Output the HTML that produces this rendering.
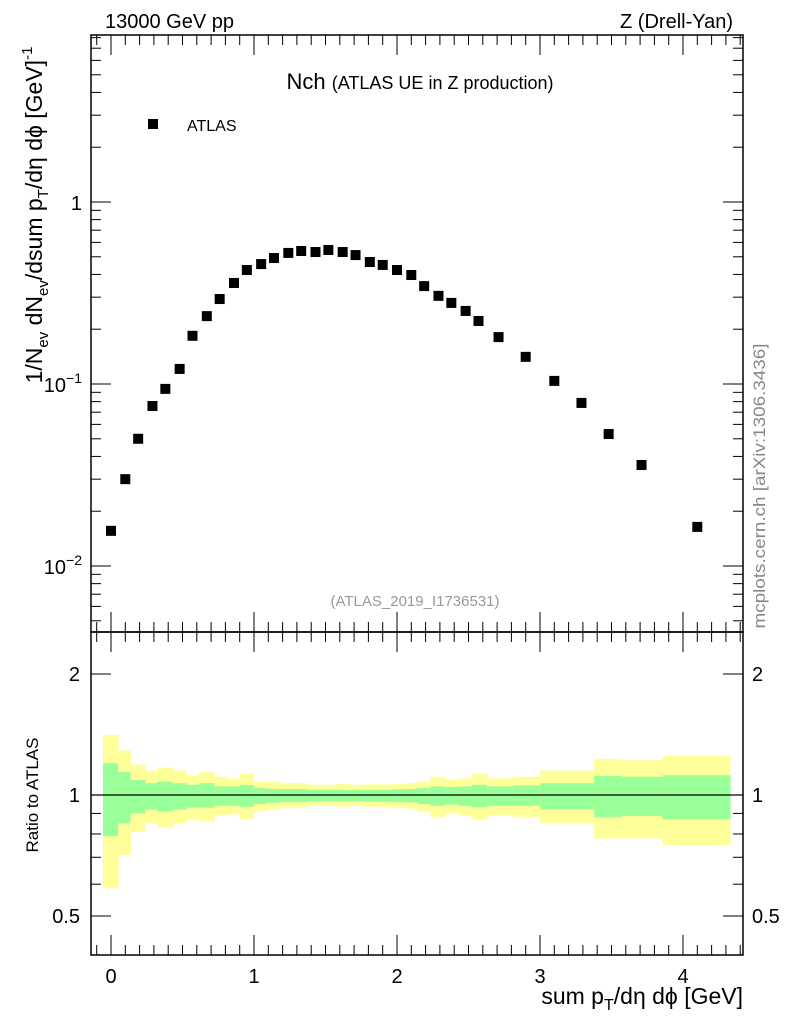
<!DOCTYPE html>
<html><head><meta charset="utf-8"><style>
body{margin:0;background:#fff}
svg{display:block;font-family:"Liberation Sans",sans-serif}
</style></head><body>
<svg id="c" width="786" height="1024" viewBox="0 0 786 1024"></svg>
<script>
const xs=[0,0.1,0.19,0.29,0.38,0.48,0.57,0.67,0.76,0.86,0.95,1.05,1.14,1.24,1.33,1.43,1.52,1.62,1.71,1.81,1.9,2.0,2.1,2.19,2.29,2.38,2.48,2.57,2.71,2.9,3.1,3.29,3.48,3.71,4.1];
const ys=[0.0156,0.030,0.050,0.0757,0.094,0.121,0.184,0.236,0.293,0.359,0.423,0.456,0.492,0.525,0.538,0.531,0.545,0.531,0.511,0.468,0.451,0.423,0.397,0.345,0.305,0.279,0.252,0.222,0.181,0.141,0.104,0.0787,0.0531,0.0359,0.0164];
const binEdges=[-0.056,0.05,0.136,0.239,0.322,0.431,0.528,0.613,0.722,0.808,0.899,0.997,1.088,1.183,1.374,1.569,1.668,1.766,1.958,2.046,2.14,2.232,2.335,2.429,2.521,2.63,2.813,3.002,3.379,3.573,3.856,4.329];
const yelUp=[1.41,1.29,1.19,1.15,1.17,1.15,1.12,1.14,1.11,1.10,1.13,1.08,1.08,1.07,1.06,1.065,1.06,1.063,1.065,1.07,1.08,1.11,1.09,1.10,1.13,1.10,1.11,1.15,1.23,1.22,1.25];
const grnUp=[1.20,1.14,1.09,1.07,1.08,1.07,1.06,1.07,1.05,1.05,1.06,1.04,1.036,1.035,1.03,1.03,1.03,1.03,1.033,1.035,1.04,1.05,1.047,1.05,1.06,1.05,1.057,1.07,1.115,1.11,1.12];
const grnLo=[0.79,0.85,0.90,0.92,0.91,0.92,0.93,0.93,0.94,0.94,0.935,0.95,0.957,0.96,0.965,0.965,0.965,0.962,0.96,0.959,0.95,0.94,0.946,0.94,0.933,0.94,0.94,0.92,0.88,0.887,0.87];
const yelLo=[0.586,0.71,0.81,0.85,0.83,0.85,0.87,0.86,0.89,0.895,0.87,0.91,0.92,0.93,0.94,0.935,0.94,0.935,0.93,0.925,0.91,0.88,0.90,0.89,0.87,0.89,0.88,0.85,0.78,0.78,0.75];
const xTicks=[0,1,2,3,4];

const S=document.getElementById('c'),NS='http://www.w3.org/2000/svg';
const L=91,R=743,T=35,MB=632,RB=955;
const X=v=>111+v*143;
const Y=v=>202-Math.log10(v)*182;
const YR=v=>795-Math.log10(v)*402;
function mk(t,a,p){const e=document.createElementNS(NS,t);for(const k in a)e.setAttribute(k,a[k]);(p||S).appendChild(e);return e;}
function ln(x1,y1,x2,y2,w){return mk('line',{x1,y1,x2,y2,stroke:'#000','stroke-width':w||1});}

const gb=mk('g',{});


for(let i=0;i<yelUp.length;i++){
 const x0=X(binEdges[i]),x1=X(binEdges[i+1]);
 const r1=mk('rect',{x:x0,y:YR(yelUp[i]),width:x1-x0+0.5,height:YR(yelLo[i])-YR(yelUp[i]),fill:'#ffff99'},gb);
 
 
 const r2=mk('rect',{x:x0,y:YR(grnUp[i]),width:x1-x0+0.5,height:YR(grnLo[i])-YR(grnUp[i]),fill:'#99ff99'},gb);
 
 
}
const ref=ln(L,YR(1),R,YR(1),1.3);



mk('rect',{x:L,y:T,width:R-L,height:MB-T,fill:'none',stroke:'#000','stroke-width':1.5});
mk('rect',{x:L,y:MB,width:R-L,height:RB-MB,fill:'none',stroke:'#000','stroke-width':1.5});

for(const yy of [[T,1],[MB,-1],[MB,1],[RB,-1]]){
 for(let v=-0.1;v<=4.4;v+=0.1){
  const vv=Math.round(v*10)/10;const px=X(vv);if(px<L||px>R)continue;
  const major=Math.abs(vv-Math.round(vv))<1e-6;
  const len=major?20:10;
  ln(px,yy[0],px,yy[0]+yy[1]*len,1);
 }
}
for(let d=-3;d<=0;d++){for(let m=1;m<10;m++){
 const v=m*Math.pow(10,d);const py=Y(v);if(py<T||py>MB)continue;
 const len=m===1?20:10;ln(L,py,L+len,py);ln(R,py,R-len,py);
}}
for(const v of [0.4,0.5,0.6,0.7,0.8,0.9,1,2]){const py=YR(v);const len=(v===1||v===2||v===0.5)?20:10;ln(L,py,L+len,py);ln(R,py,R-len,py);}

function tx(x,y,s,size,anchor,extra){const t=mk('text',Object.assign({x,y,'font-size':size,'text-anchor':anchor||'start'},extra||{}));t.innerHTML=s;return t;}
xTicks.forEach(v=>{const t=tx(X(v),983,v,20,'middle');});
let t;
t=tx(82,210,'1',20,'end');
t=tx(82,392,'10<tspan dy="-9" font-size="14">−1</tspan>',20,'end');
t=tx(82,574,'10<tspan dy="-9" font-size="14">−2</tspan>',20,'end');
for(const [v,s] of [[2,'2'],[1,'1'],[0.5,'0.5']]){
 t=tx(80,YR(v)+7,s,20,'end');
 t=tx(752,YR(v)+7,s,20,'start');
}
t=tx(105,28,'13000 GeV pp',20);
t=tx(733,28,'Z (Drell-Yan)',20,'end');
t=tx(420,89,'Nch <tspan font-size="18">(ATLAS UE in Z production)</tspan>',22,'middle');
t=tx(187,131,'ATLAS',16);
const lm=mk('rect',{x:148,y:119,width:10,height:10,fill:'#000'});

t=tx(415,606,'(ATLAS_2019_I1736531)',15,'middle',{fill:'#999'});
t=tx(0,0,'mcplots.cern.ch [arXiv:1306.3436]',17,'middle',{fill:'#888',transform:'translate(765,486) rotate(-90)',textLength:285,lengthAdjust:'spacingAndGlyphs'});
t=tx(0,0,'1/N<tspan dy="6" font-size="15">ev</tspan><tspan dy="-6"> dN</tspan><tspan dy="6" font-size="15">ev</tspan><tspan dy="-6">/dsum p</tspan><tspan dy="6" font-size="15">T</tspan><tspan dy="-6">/dη dϕ  [GeV]</tspan><tspan dy="-10" font-size="15">-1</tspan>',23,'middle',{transform:'translate(42,215) rotate(-90)'});
t=tx(0,0,'Ratio to ATLAS',17,'middle',{transform:'translate(38,795) rotate(-90)'});
t=tx(743,1004,'sum p<tspan dy="6" font-size="16">T</tspan><tspan dy="-6">/dη dϕ [GeV]</tspan>',23,'end');

const gp=mk('g',{});


xs.forEach((x,i)=>{const r=mk('rect',{x:X(x)-5,y:Y(ys[i])-5,width:10,height:10,fill:'#000'},gp);
 
 });
</script>
</body></html>
